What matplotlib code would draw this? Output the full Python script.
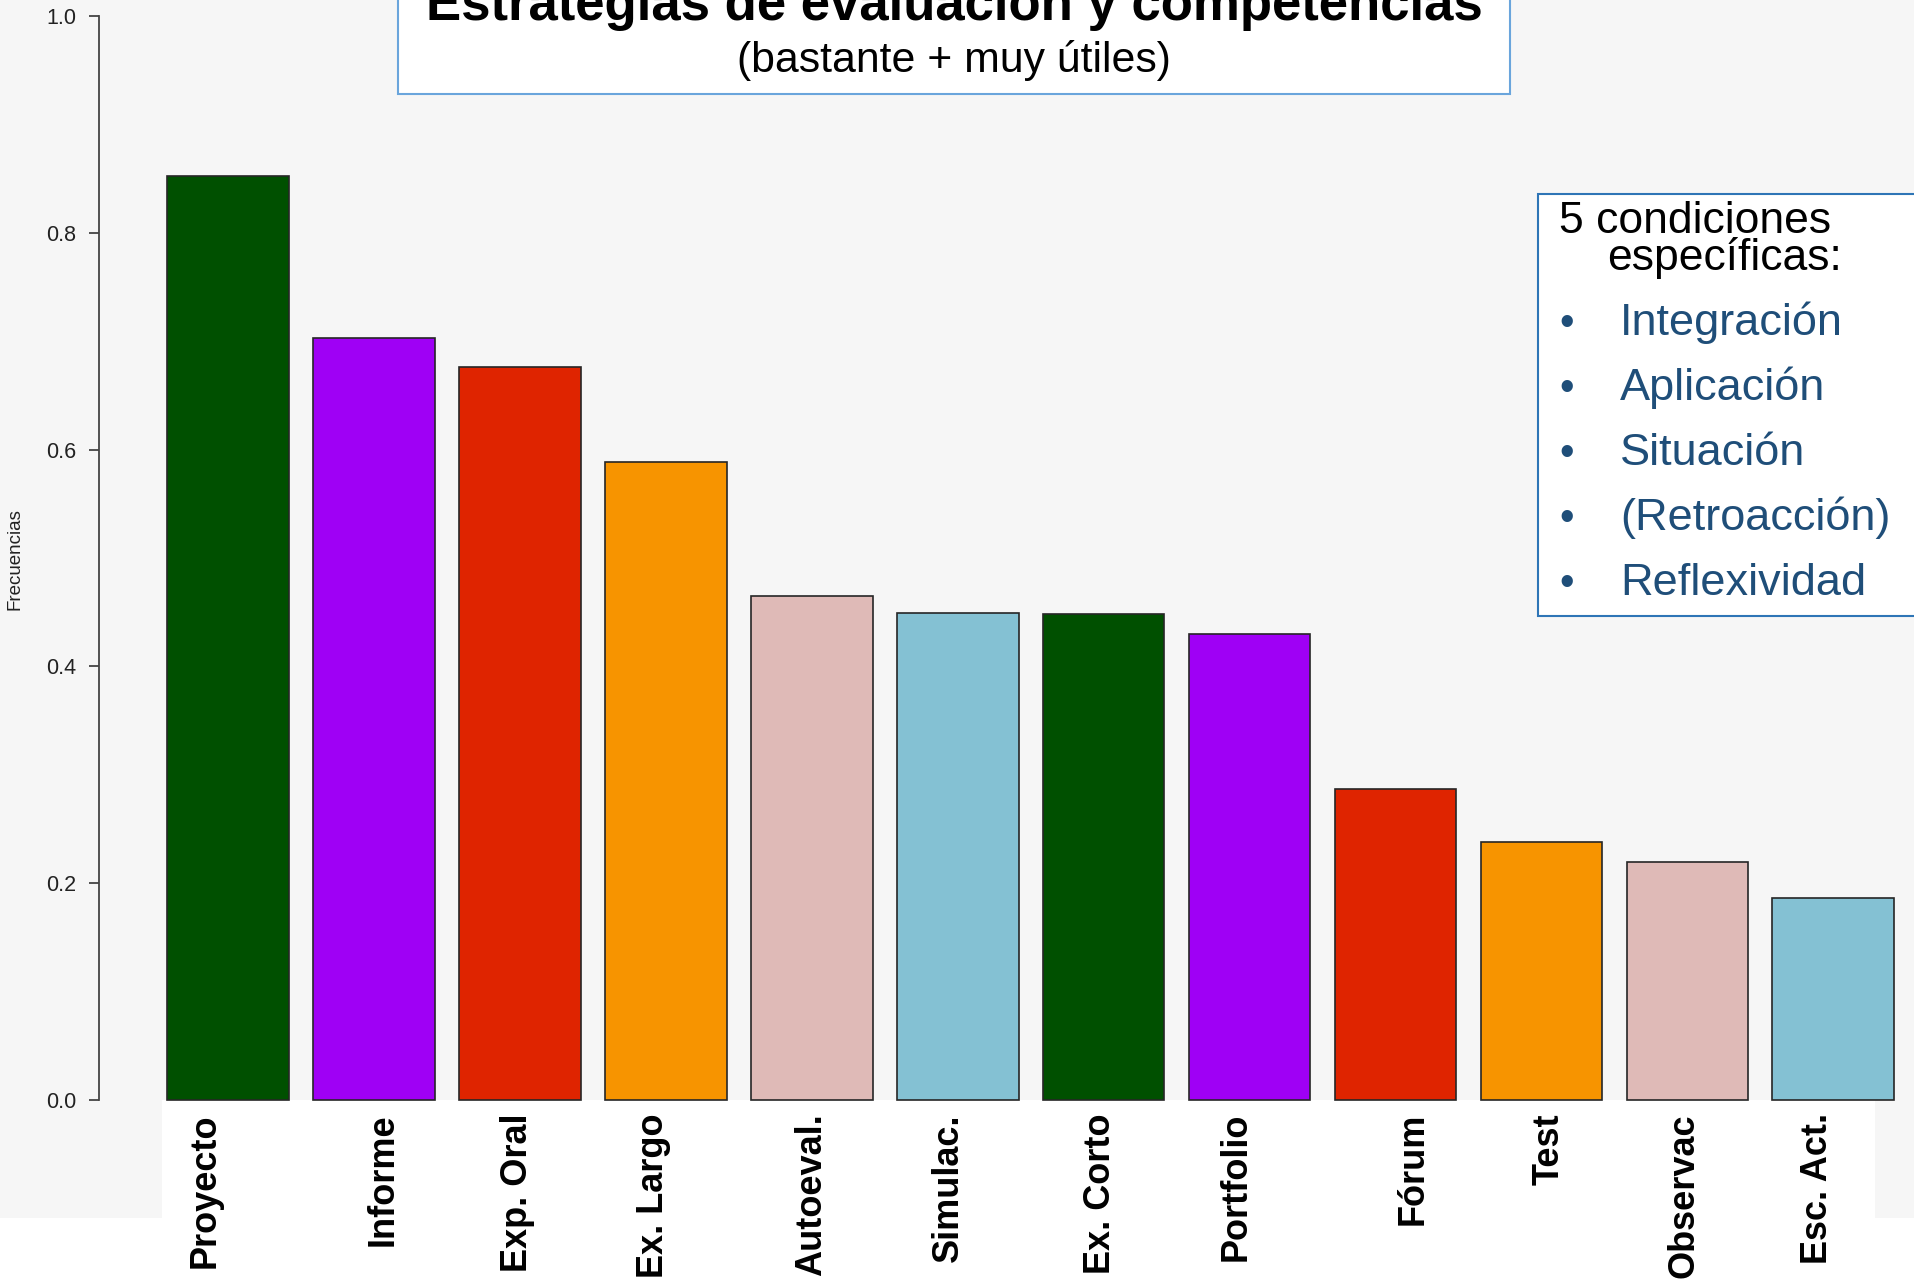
import numpy as np
import matplotlib.pyplot as plt
from matplotlib.patches import Rectangle
from matplotlib.transforms import blended_transform_factory

plt.rcParams['font.family'] = ['Liberation Sans', 'DejaVu Sans']

categories = ['Proyecto', 'Informe', 'Exp. Oral', 'Ex. Largo', 'Autoeval.', 'Simulac.',
              'Ex. Corto', 'Portfolio', 'Fórum', 'Test', 'Observac', 'Esc. Act.']
freqs = [0.852, 0.703, 0.676, 0.589, 0.465, 0.449, 0.448, 0.430, 0.287, 0.238, 0.220, 0.186]
conditions = ['Integración', 'Aplicación', 'Situación', '(Retroacción)', 'Reflexividad']
yticks = [0.0, 0.2, 0.4, 0.6, 0.8, 1.0]

bar_colors = ['#005000', '#9f00f5', '#df2400', '#f79400', '#dfbab7', '#84c1d3'] * 2
# labels were placed by hand, not exactly under each bar
label_shift = [-0.19, 0.075, -0.02, -0.105, 0.0, -0.08, -0.03, -0.11, 0.145, 0.06, -0.025, -0.13]

fig = plt.figure(figsize=(19.15, 12.83), dpi=100, facecolor='#f6f6f6')

# white strips behind the category labels
fig.patches.append(Rectangle((0.0848, 0), 0.979 - 0.0848, 0.1427, transform=fig.transFigure,
                             facecolor='white', edgecolor='none', zorder=-1))
fig.patches.append(Rectangle((0, 0), 1, 0.0504, transform=fig.transFigure,
                             facecolor='white', edgecolor='none', zorder=-1))

ax = fig.add_axes([0, 0, 1, 1])
ax.set_facecolor('none')
x = 0.7 + 1.2 * np.arange(len(freqs))
ax.bar(x, freqs, width=1.0, color=bar_colors, edgecolor='#262626', linewidth=1.2, zorder=2)
ax.set_xlim(-1.176, 14.572)
ax.set_ylim(-0.1688, 1.0148)

for s in ['top', 'right', 'bottom']:
    ax.spines[s].set_visible(False)
ax.spines['left'].set_position(('data', -0.362))
ax.spines['left'].set_bounds(0, 1)
ax.spines['left'].set_color('#444444')
ax.spines['left'].set_linewidth(1.3)
ax.set_xticks([])
ax.set_yticks(yticks)
ax.set_yticklabels(['%.1f' % t for t in yticks])
ax.tick_params(axis='y', length=7, width=1.3, color='#444444', pad=9.5,
               labelsize=15.5, labelcolor='#222222')
ax.set_ylabel('Frecuencias', fontsize=13.5, color='#222222', va='center')
ax.yaxis.set_label_coords(0.0077, 0.5643)

trans = blended_transform_factory(ax.transData, fig.transFigure)
for xi, sh, cat in zip(x, label_shift, categories):
    ax.text(xi + sh, 0.1325, cat, rotation=90, ha='center', va='top',
            fontsize=26, fontweight='bold', transform=trans)

# title box
fig.patches.append(Rectangle((0.2079, 0.9267), 0.7883 - 0.2079, 0.1, transform=fig.transFigure,
                             facecolor='white', edgecolor='#6aa5dc', linewidth=1.5, zorder=5))
fig.text(0.4984, 0.9844, 'Estrategias de evaluación y competencias', ha='center', va='baseline',
         fontsize=38, fontweight='bold', zorder=6)
fig.text(0.4984, 0.9532, '(bastante + muy útiles)', ha='center', va='center',
         fontsize=30.8, zorder=6)

# side box
fig.patches.append(Rectangle((0.8031, 0.5199), 0.25, 0.8488 - 0.5199, transform=fig.transFigure,
                             facecolor='white', edgecolor='#2e75b6', linewidth=1.5, zorder=5))
fig.text(0.8141, 0.8184, '5 condiciones', ha='left', va='baseline', fontsize=32, zorder=6)
fig.text(0.8392, 0.7896, 'específicas:', ha='left', va='baseline', fontsize=32, zorder=6)
for i, c in enumerate(conditions):
    yb = 0.7389 - i * 65 / 1283
    fig.text(0.8183, yb, '•', ha='center', va='baseline', fontsize=30, color='#1f4e79', zorder=6)
    fig.text(0.8460, yb, c, ha='left', va='baseline', fontsize=32.5, color='#1f4e79', zorder=6)

fig.savefig('out.png', dpi=100, facecolor=fig.get_facecolor())
